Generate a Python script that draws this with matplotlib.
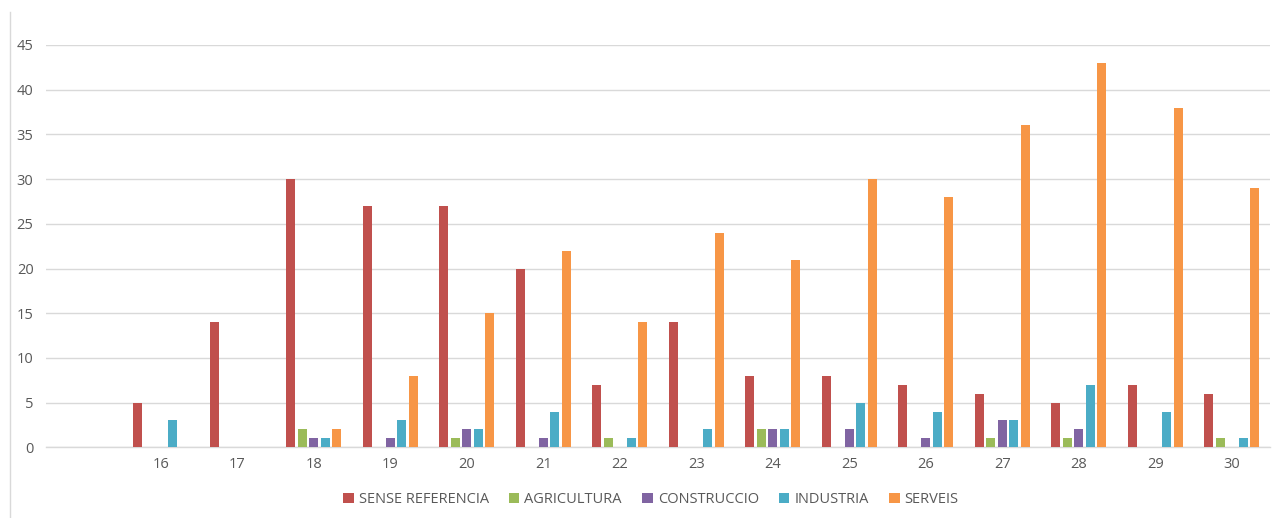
import matplotlib
matplotlib.use("Agg")
import matplotlib.pyplot as plt
import numpy as np
from matplotlib.patches import Patch
from matplotlib.lines import Line2D

categories = ["", "16", "17", "18", "19", "20", "21", "22", "23", "24", "25", "26", "27", "28", "29", "30"]
series_names = ["SENSE REFERENCIA", "AGRICULTURA", "CONSTRUCCIO", "INDUSTRIA", "SERVEIS"]
sense_referencia = [0, 5, 14, 30, 27, 27, 20, 7, 14, 8, 8, 7, 6, 5, 7, 6]
agricultura      = [0, 0, 0, 2, 0, 1, 0, 1, 0, 2, 0, 0, 1, 1, 0, 1]
construccio      = [0, 0, 0, 1, 1, 2, 1, 0, 0, 2, 2, 1, 3, 2, 0, 0]
industria        = [0, 3, 0, 1, 3, 2, 4, 1, 2, 2, 5, 4, 3, 7, 4, 1]
serveis          = [0, 0, 0, 2, 8, 15, 22, 14, 24, 21, 30, 28, 36, 43, 38, 29]
colors = ["#C0504D", "#9BBB59", "#8064A2", "#4BACC6", "#F79646"]

series = [sense_referencia, agricultura, construccio, industria, serveis]

plt.rcParams['font.family'] = ['Open Sans', 'DejaVu Sans']
text_color = "#595959"

fig = plt.figure(figsize=(12.75, 5.18), dpi=100)
ax = fig.add_axes([46/1275, (518-447.3)/518, 1224/1275, (447.3-45)/518])

x = np.arange(len(categories))
pitch = 0.15
width = 0.122
for i, (vals, c) in enumerate(zip(series, colors)):
    ax.bar(x + (i - 2) * pitch, vals, width=width, color=c, zorder=3, linewidth=0)

ax.set_xlim(-0.5, len(categories) - 0.5)
ax.set_ylim(0, 45)
ax.set_yticks(np.arange(0, 46, 5))
ax.set_xticks(x)
ax.set_xticklabels(categories)
ax.yaxis.grid(True, color="#D9D9D9", linewidth=1.0, zorder=0)
ax.set_axisbelow(True)
for s in ["top", "right", "left"]:
    ax.spines[s].set_visible(False)
ax.spines["bottom"].set_color("#D9D9D9")
ax.spines["bottom"].set_linewidth(1.0)
ax.tick_params(axis="both", length=0, colors=text_color, labelsize=10.5)
ax.tick_params(axis="y", pad=9)
ax.tick_params(axis="x", pad=7)

handles = [Patch(facecolor=c, edgecolor="none", label=n) for n, c in zip(series_names, colors)]
leg = fig.legend(handles=handles, loc="center", bbox_to_anchor=(651/1275, 1 - 499.5/518),
                 ncol=5, frameon=False, fontsize=10.5, handlelength=0.7, handleheight=0.7,
                 handletextpad=0.35, columnspacing=1.4, labelcolor=text_color)

fig.add_artist(Line2D([9.5/1275, 9.5/1275], [0, 1 - 12/518], transform=fig.transFigure,
                      color="#D9D9D9", linewidth=1.0))

fig.savefig("out.png", dpi=100, facecolor="white")
